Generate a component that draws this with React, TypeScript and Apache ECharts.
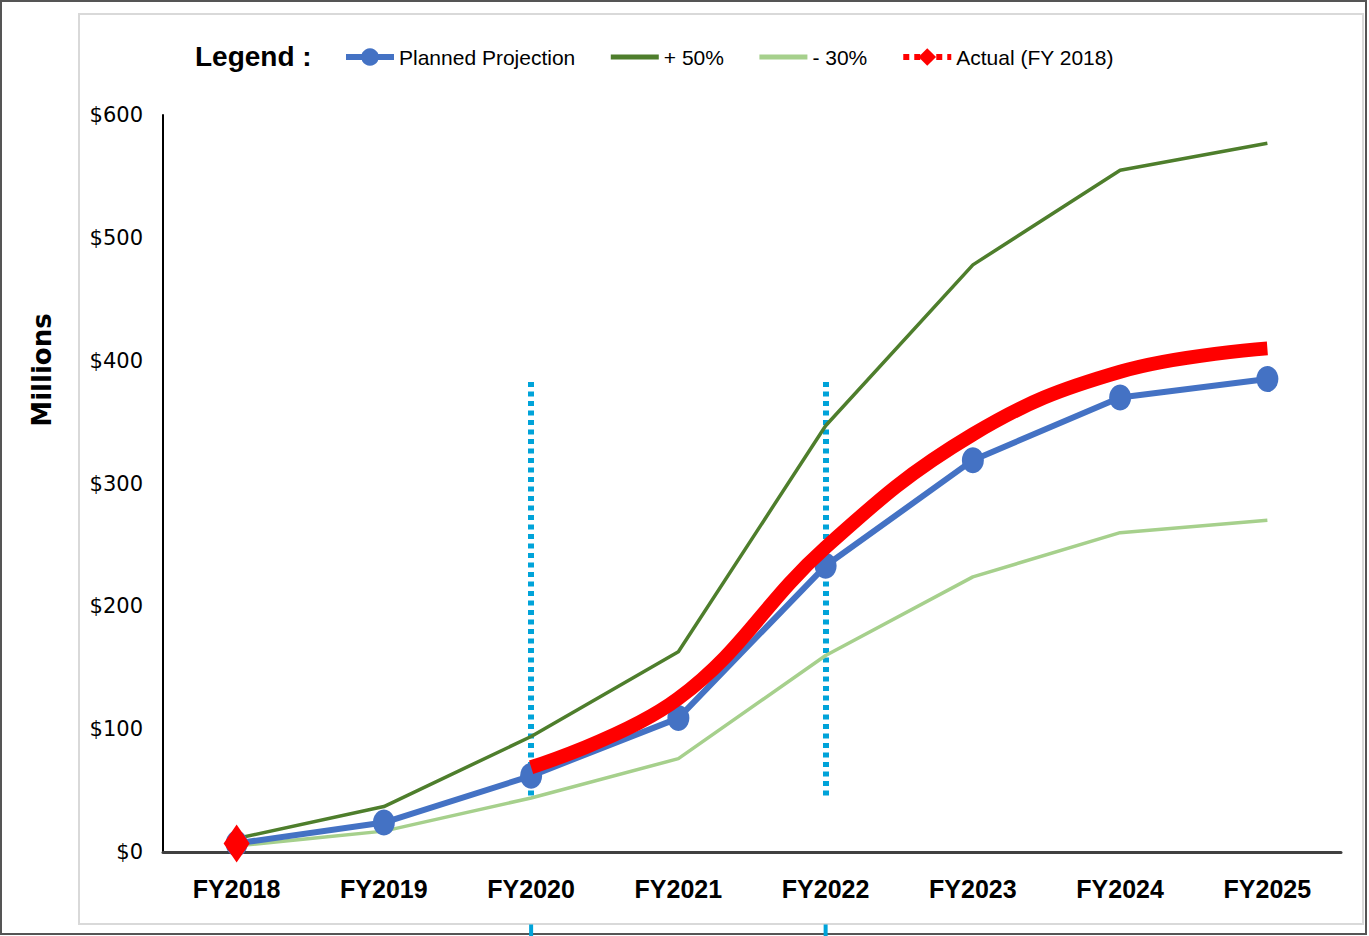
import React, { useEffect, useRef } from "react";
import * as echarts from "echarts";

const categories = ["FY2018", "FY2019", "FY2020", "FY2021", "FY2022", "FY2023", "FY2024", "FY2025"];
const planned = [7, 24, 62, 109, 233, 319, 370, 385];
const plus50 = [11, 37, 94, 163, 347, 478, 555, 577];
const minus30 = [5, 17, 44, 76, 160, 224, 260, 270];
const actual: (number | null)[] = [7, null, 69, 125, 248, 340, 391, 410];
const seriesNames = ["Planned Projection", "+ 50%", "- 30%", "Actual (FY 2018)"];
const markerYears = ["FY2020", "FY2022"];
const markerRange = [46, 386];
const stubRange = [-59, -70];
const yMin = 0;
const yMax = 600;
const yStep = 100;

const SANS = "'Liberation Sans', Arial, sans-serif";
const CYAN = "#00a3d9";

export default function App() {
  const ref = useRef<HTMLDivElement>(null);
  useEffect(() => {
    if (!ref.current) return;
    const chart = echarts.init(ref.current, null, { renderer: "svg" });
    const markData: any[] = markerYears.map((yr) => [
      { coord: [yr, markerRange[0]] },
      { coord: [yr, markerRange[1]] },
    ]);

    const hiddenSymbol = { color: "rgba(0,0,0,0)", opacity: 0, borderWidth: 0 };

    chart.setOption({
      animation: false,
      backgroundColor: "#ffffff",
      grid: { left: 163, right: 28, top: 115, bottom: 84, containLabel: false },
      graphic: [
        {
          id: "outer",
          type: "rect",
          silent: true,
          z: -10,
          shape: { x: 1, y: 1, width: 1365, height: 933 },
          style: { fill: "none", stroke: "#555555", lineWidth: 2 },
        },
        {
          id: "inner",
          type: "rect",
          silent: true,
          z: -10,
          shape: { x: 79, y: 14, width: 1284, height: 910 },
          style: { fill: "none", stroke: "#d9d9d9", lineWidth: 2 },
        },
        {
          id: "legendTitle",
          type: "text",
          x: 195,
          y: 56,
          style: {
            text: "Legend :",
            font: `bold 28px ${SANS}`,
            fill: "#000000",
            verticalAlign: "middle",
          },
        },
        {
          id: "millions",
          type: "text",
          x: 42,
          y: 370,
          rotation: Math.PI / 2,
          style: {
            text: "Millions",
            font: "bold 26px 'DejaVu Sans', sans-serif",
            fill: "#000000",
            align: "center",
            verticalAlign: "middle",
          },
        },
      ],
      legend: {
        left: 338,
        top: 41,
        itemWidth: 48,
        itemHeight: 22,
        itemGap: 33,
        textStyle: { fontFamily: SANS, fontSize: 21, lineHeight: 22, color: "#000000" },
        data: [
          { name: seriesNames[0], lineStyle: { width: 6 } },
          { name: seriesNames[1], lineStyle: { width: 5 }, itemStyle: hiddenSymbol },
          { name: seriesNames[2], lineStyle: { width: 5 }, itemStyle: hiddenSymbol },
          {
            name: seriesNames[3],
            itemStyle: { color: "#ff0000" },
            lineStyle: { color: "#ff0000", width: 6, type: [6, 5] },
          },
        ],
      },
      xAxis: {
        type: "category",
        data: categories,
        boundaryGap: true,
        axisLine: { show: true, lineStyle: { color: "#404040", width: 3 } },
        axisTick: { show: false },
        axisLabel: {
          margin: 24,
          fontFamily: SANS,
          fontWeight: "bold",
          fontSize: 25,
          color: "#000000",
        },
        splitLine: { show: false },
      },
      yAxis: {
        type: "value",
        min: yMin,
        max: yMax,
        interval: yStep,
        axisLine: { show: true, lineStyle: { color: "#000000", width: 2 } },
        axisTick: { show: false },
        splitLine: { show: false },
        axisLabel: {
          margin: 20,
          fontFamily: "'DejaVu Sans', sans-serif",
          fontSize: 21,
          color: "#000000",
          formatter: (v: number) => "$" + v,
        },
      },
      series: [
        {
          name: seriesNames[1],
          type: "line",
          data: plus50,
          symbol: "none",
          lineStyle: { color: "#4e7e2c", width: 3.5 },
          itemStyle: { color: "#4e7e2c" },
          z: 2,
        },
        {
          name: seriesNames[2],
          type: "line",
          data: minus30,
          symbol: "none",
          lineStyle: { color: "#a6d08c", width: 3.5 },
          itemStyle: { color: "#a6d08c" },
          z: 2,
        },
        {
          name: seriesNames[0],
          type: "line",
          data: planned,
          symbol: "circle",
          symbolSize: [22, 26],
          lineStyle: { color: "#4472c4", width: 6 },
          itemStyle: { color: "#4472c4" },
          z: 3,
          markLine: {
            silent: true,
            symbol: "none",
            label: { show: false },
            lineStyle: { color: CYAN, width: 6, type: [5, 4.5], cap: "butt", opacity: 1 },
            emphasis: { disabled: true },
            data: markData,
            z: 1,
          },
        },
        {
          name: seriesNames[3],
          type: "line",
          smooth: 0.4,
          connectNulls: false,
          data: actual.map((v, i) =>
            i === 0
              ? { value: v, symbol: "diamond", symbolSize: [26, 38] }
              : { value: v, symbol: "none" }
          ),
          symbol: "diamond",
          showSymbol: true,
          showAllSymbol: true,
          lineStyle: { color: "#ff0000", width: 14, cap: "butt" },
          itemStyle: { color: "#ff0000" },
          z: 4,
        },
      ],
    });

    // short continuations of the marker lines below the frame, placed via the axes' scales
    const stubs = markerYears.map((yr, i) => {
      const x = chart.convertToPixel({ xAxisIndex: 0 }, yr) as number;
      const y1 = chart.convertToPixel({ yAxisIndex: 0 }, stubRange[0]) as number;
      const y2 = chart.convertToPixel({ yAxisIndex: 0 }, stubRange[1]) as number;
      return {
        id: "stub" + i,
        type: "line",
        silent: true,
        shape: { x1: x, y1, x2: x, y2 },
        style: { stroke: CYAN, lineWidth: 4 },
      };
    });
    chart.setOption({ graphic: stubs });

    return () => chart.dispose();
  }, []);
  return (
    <div
      ref={ref}
      style={{ position: "absolute", left: 0, top: 0, width: 1369, height: 936 }}
    />
  );
}
